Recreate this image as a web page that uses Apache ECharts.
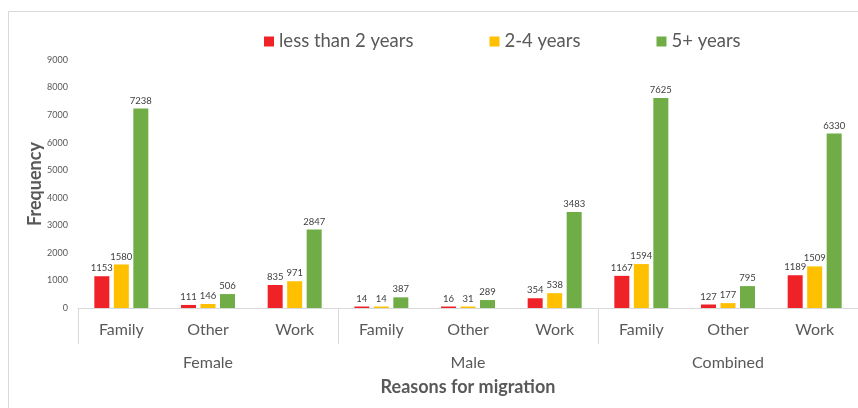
<!DOCTYPE html>
<html>
<head>
<meta charset="utf-8">
<script src="https://cdn.jsdelivr.net/npm/echarts@6/dist/echarts.min.js"></script>
<style>html,body{margin:0;padding:0;background:#fff}#c{width:858px;height:408px}</style>
</head>
<body>
<div id="c"></div>
<script>
const reasons = ['Family','Other','Work','Family','Other','Work','Family','Other','Work'];
const groups = ['Female','Male','Combined'];
const seriesNames = ['less than 2 years','2-4 years','5+ years'];
const lessThan2 = [1153,111,835,14,16,354,1167,127,1189];
const twoToFour = [1580,146,971,14,31,538,1594,177,1509];
const fivePlus = [7238,506,2847,387,289,3483,7625,795,6330];
const colors = ['#EE2227','#FFC000','#70AD47'];
const FONT = 'Lato';
const chart = echarts.init(document.getElementById('c'));
function mk(name, data, color){
  return {
    name, type:'bar', data, xAxisIndex:0, barWidth:15, barGap:'30%', barMinHeight:1.5,
    itemStyle:{color},
    label:{show:true, position:'top', distance:3, fontSize:9.5, color:'#404040', fontFamily:FONT},
    emphasis:{disabled:true}
  };
}
chart.setOption({
  animation:false,
  textStyle:{fontFamily:FONT},
  graphic:[{type:'rect', shape:{x:8.5,y:11.5,width:900,height:500}, style:{fill:'none', stroke:'#d9d9d9', lineWidth:1}, silent:true}],
  legend:{left:259, top:27, itemWidth:10, itemHeight:10, itemGap:76,
    textStyle:{fontSize:18.5, color:'#595959', fontFamily:FONT}, icon:'rect',
    data:seriesNames},
  grid:{left:78, top:60, width:783, bottom:100, containLabel:false},
  xAxis:[
    {type:'category', data:reasons, gridIndex:0, position:'bottom',
     axisLine:{lineStyle:{color:'#d9d9d9'}}, axisTick:{show:false},
     axisLabel:{fontSize:16, color:'#595959', margin:14, fontFamily:FONT, interval:0}},
    {type:'category', data:groups, gridIndex:0, position:'bottom',
     axisLine:{show:false},
     axisTick:{show:true, length:36, lineStyle:{color:'#d9d9d9'}, interval:0},
     axisLabel:{fontSize:16, color:'#595959', margin:47, fontFamily:FONT},
     name:'Reasons for migration', nameLocation:'middle', nameGap:70, nameMoveOverlap:false,
     nameTextStyle:{fontSize:18, fontWeight:'bold', color:'#595959', fontFamily:FONT}}
  ],
  yAxis:{type:'value', min:0, max:9000, interval:1000,
    axisLine:{show:false}, axisTick:{show:false}, splitLine:{show:false},
    axisLabel:{fontSize:9, color:'#595959', margin:10, fontFamily:FONT, formatter:v=>String(v)},
    name:'Frequency', nameLocation:'middle', nameGap:34, nameMoveOverlap:false,
    nameTextStyle:{fontSize:18, fontWeight:'bold', color:'#595959', fontFamily:FONT}},
  series:[mk(seriesNames[0], lessThan2, colors[0]), mk(seriesNames[1], twoToFour, colors[1]), mk(seriesNames[2], fivePlus, colors[2])]
});
</script>
</body>
</html>
